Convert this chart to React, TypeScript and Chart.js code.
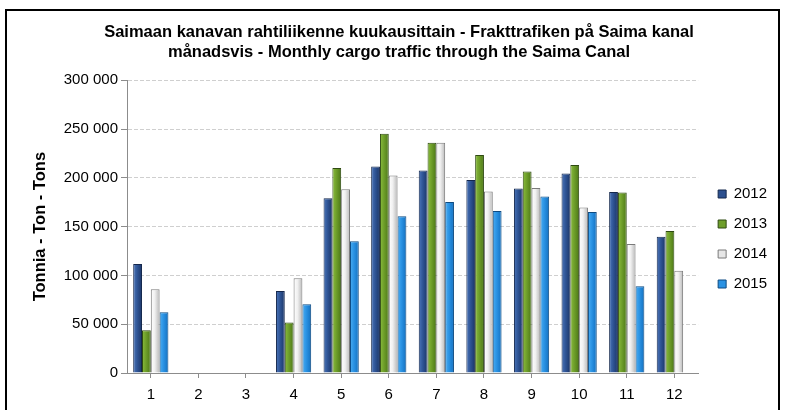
import React, { useEffect, useRef } from "react";
import { Chart, registerables } from "chart.js";

Chart.register(...registerables);

const FONT = "'Liberation Sans', Arial, sans-serif";

const titleLines = [
  "Saimaan kanavan rahtiliikenne kuukausittain - Frakttrafiken på Saima kanal",
  "månadsvis - Monthly cargo traffic through the Saima Canal",
];
const yAxisTitle = "Tonnia - Ton - Tons";

const months = ["1", "2", "3", "4", "5", "6", "7", "8", "9", "10", "11", "12"];
const years = ["2012", "2013", "2014", "2015"];

const tons2012 = [111700, null, null, 84100, 179100, 211500, 207400, 197800, 189000, 204400, 185600, 139600];
const tons2013 = [43900, null, null, 51700, 210100, 245200, 236000, 223400, 206400, 213100, 184900, 145400];
const tons2014 = [85800, null, null, 97100, 188300, 202300, 236000, 186000, 189600, 169600, 132100, 104800];
const tons2015 = [62300, null, null, 70500, 135000, 160700, 175300, 166100, 180900, 165100, 88900, null];

const yMin = 0;
const yMax = 300000;
const yStep = 50000;

const fills = ["#2D5190", "#6E9E2A", "#E6E6E6", "#2A92E3"];
const borders = ["#15284D", "#2F4A12", "#7A7A7A", "#0E4B82"];
const shades = [
  ["#4C76BA", "#2F5596", "#1B3566"],
  ["#8ABD3C", "#6E9E2A", "#4C7716"],
  ["#FFFFFF", "#F0F0F0", "#B8B8B8"],
  ["#4AADF2", "#2A92E3", "#136FBF"],
];

const fmt = (v: number) => String(v).replace(/\B(?=(\d{3})+(?!\d))/g, " ");

const legendShift = {
  id: "legendShift",
  afterLayout(chart: any) {
    const l = chart.legend;
    if (!l) return;
    l.left += 5;
    l.right += 5;
    l.top += 34;
    l.bottom += 34;
  },
};

const barShading = {
  id: "barShading",
  beforeDatasetsDraw(chart: any) {
    const ctx = chart.ctx;
    chart.data.datasets.forEach((_: any, di: number) => {
      const meta = chart.getDatasetMeta(di);
      const s = shades[di];
      meta.data.forEach((el: any) => {
        if (el.x == null || !el.width || isNaN(el.x)) return;
        const x0 = el.x - el.width / 2;
        const x1 = el.x + el.width / 2;
        const g = ctx.createLinearGradient(x0, 0, x1, 0);
        g.addColorStop(0, s[0]);
        g.addColorStop(0.45, s[1]);
        g.addColorStop(1, s[2]);
        el.options = Object.assign({}, el.options, { backgroundColor: g });
      });
    });
  },
};

export default function App() {
  const ref = useRef<HTMLCanvasElement>(null);
  useEffect(() => {
    document.body.style.margin = "0";
    const series = [tons2012, tons2013, tons2014, tons2015];
    const chart = new Chart(ref.current!, {
      type: "bar",
      data: {
        labels: months,
        datasets: years.map((y, i) => ({
          label: y,
          data: series[i],
          backgroundColor: fills[i],
          borderColor: borders[i],
          borderWidth: 1,
          categoryPercentage: 0.74,
          barPercentage: 1,
        })),
      },
      options: {
        responsive: false,
        animation: false,
        events: [],
        layout: { padding: { left: 26, right: 13, top: 0, bottom: 0 } },
        plugins: {
          title: {
            display: true,
            text: titleLines,
            color: "#000",
            font: { family: FONT, size: 16.5, weight: "bold", lineHeight: 1.22 },
            padding: { top: 22, bottom: 18 },
          },
          legend: {
            position: "right",
            labels: {
              boxWidth: 8,
              boxHeight: 8,
              padding: 15,
              color: "#000",
              font: { family: FONT, size: 15 },
            },
          },
          tooltip: { enabled: false },
        },
        scales: {
          x: {
            grid: {
              display: true,
              drawOnChartArea: false,
              offset: false,
              tickLength: 5,
              tickColor: "#8c8c8c",
            },
            border: { color: "#8c8c8c" },
            ticks: { color: "#000", font: { family: FONT, size: 15 }, padding: 8 },
            afterFit: (s: any) => {
              s.height = 37;
            },
          },
          y: {
            min: yMin,
            max: yMax,
            ticks: {
              stepSize: yStep,
              color: "#000",
              font: { family: FONT, size: 15 },
              padding: 3,
              callback: (v: any) => fmt(Number(v)),
            },
            grid: { color: "#cfcfcf", tickColor: "#8c8c8c", tickLength: 6, tickBorderDash: [] },
            border: { color: "#8c8c8c", dash: [4, 2] },
            title: {
              display: true,
              text: yAxisTitle,
              color: "#000",
              font: { family: FONT, size: 16.5, weight: "bold" },
              padding: { top: 5, bottom: 0 },
            },
            afterFit: (s: any) => {
              s.width = 101;
            },
          },
        },
      },
      plugins: [legendShift, barShading],
    });
    return () => chart.destroy();
  }, []);

  return (
    <div style={{ position: "absolute", left: 0, top: 0, width: 785, height: 410, background: "#fff", overflow: "hidden" }}>
      <div
        style={{
          position: "absolute",
          left: 5,
          top: 9,
          width: 775,
          height: 430,
          border: "2px solid #000",
          boxSizing: "border-box",
        }}
      />
      <canvas ref={ref} width={785} height={410} style={{ position: "absolute", left: 0, top: 0 }} />
    </div>
  );
}
